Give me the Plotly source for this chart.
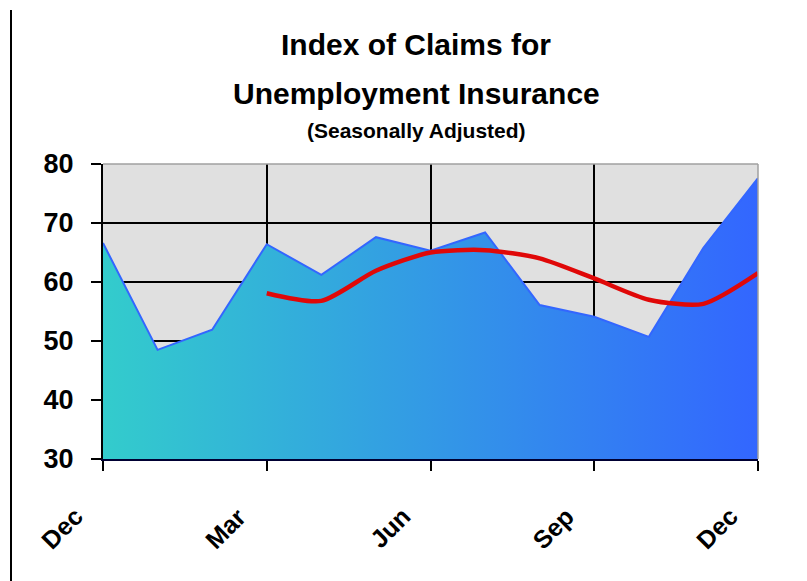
import plotly.graph_objects as go

# ---- data ----
months = ['Dec', 'Jan', 'Feb', 'Mar', 'Apr', 'May', 'Jun',
          'Jul', 'Aug', 'Sep', 'Oct', 'Nov', 'Dec']
claims_index = [66.6, 48.5, 51.9, 66.4, 61.2, 67.6, 65.3,
                68.4, 56.1, 54.1, 50.7, 65.8, 77.6]
moving_avg = [None, None, None, 58.1, 56.8, 61.9, 65.0,
              65.4, 64.0, 60.6, 57.0, 56.3, 61.5]
tick_positions = [0, 3, 6, 9, 12]
tick_labels = [months[i] for i in tick_positions]
y_ticks = [30, 40, 50, 60, 70, 80]

x = list(range(len(months)))

FONT = "Liberation Sans, Arial, sans-serif"

fig = go.Figure()
fig.add_trace(go.Scatter(
    x=x, y=claims_index, mode='lines', fill='tozeroy',
    line=dict(color='#3366ff', width=2),
    fillgradient=dict(type='horizontal',
                      colorscale=[[0, '#33cccc'], [1, '#3366ff']]),
    hoverinfo='skip', showlegend=False))
fig.add_trace(go.Scatter(
    x=x, y=moving_avg, mode='lines',
    line=dict(color='#e00808', width=4.5, shape='spline', smoothing=0.7),
    showlegend=False))

# page has an 8px body margin; figure placed at (8, 8)
OFF = 8
W, H = 807 - OFF, 581 - OFF
L, T = 103 - OFF, 164 - OFF
pw, ph = 655, 295
R, B = W - L - pw, H - T - ph

def px_x(px):  # page x -> paper x
    return (px - OFF - L) / pw

def px_y(py):  # page y -> paper y
    return (H - B - (py - OFF)) / ph

annotations = [
    dict(text='Index of Claims for', xref='paper', yref='paper',
         x=px_x(416), y=px_y(45), showarrow=False,
         xanchor='center', yanchor='middle',
         font=dict(family=FONT, size=30, weight='bold')),
    dict(text='Unemployment Insurance', xref='paper', yref='paper',
         x=px_x(416), y=px_y(93), showarrow=False,
         xanchor='center', yanchor='middle',
         font=dict(family=FONT, size=30, weight='bold')),
    dict(text='(Seasonally Adjusted)', xref='paper', yref='paper',
         x=px_x(416), y=px_y(130), showarrow=False,
         xanchor='center', yanchor='middle',
         font=dict(family=FONT, size=21, weight='bold')),
]
for pos, lab in zip(tick_positions, tick_labels):
    annotations.append(dict(
        text=lab, xref='x', yref='y domain', x=pos, y=0,
        showarrow=False, textangle=-45, xanchor='center', yanchor='middle',
        xshift=-41, yshift=-69,
        font=dict(family=FONT, size=25, weight='bold')))

fig.update_layout(
    width=W, height=H,
    margin=dict(l=L, r=R, t=T, b=B, pad=0),
    paper_bgcolor='white', plot_bgcolor='#e0e0e0',
    font=dict(family=FONT, color='black'),
    showlegend=False,
    xaxis=dict(range=[0, 12], tickvals=tick_positions, ticktext=tick_labels,
               showticklabels=False, showgrid=True, gridcolor='black',
               gridwidth=1.5, ticks='outside', ticklen=10, tickwidth=1.5,
               tickcolor='black', showline=True, linecolor='#000033',
               linewidth=2, zeroline=False),
    yaxis=dict(range=[30, 80], tickvals=y_ticks, showgrid=True,
               gridcolor='black', gridwidth=1.5,
               ticks='outside', ticklen=10, tickwidth=1.5, tickcolor='black',
               showline=True, linecolor='black', linewidth=2,
               zeroline=False, ticklabelstandoff=12,
               tickfont=dict(family=FONT, size=27, weight='bold')),
    shapes=[
        dict(type='line', xref='x domain', yref='y domain', x0=0, x1=1,
             y0=1, y1=1, line=dict(color='#a0a0a0', width=1.5), layer='above'),
        dict(type='line', xref='x domain', yref='y domain', x0=1, x1=1,
             y0=0, y1=1, line=dict(color='#a0a0a0', width=1.5), layer='above'),
        dict(type='line', xref='paper', yref='paper',
             x0=px_x(11), x1=px_x(11), y0=px_y(10), y1=px_y(600),
             line=dict(color='black', width=2)),
    ],
    annotations=annotations,
)

fig.write_html("out.html")
